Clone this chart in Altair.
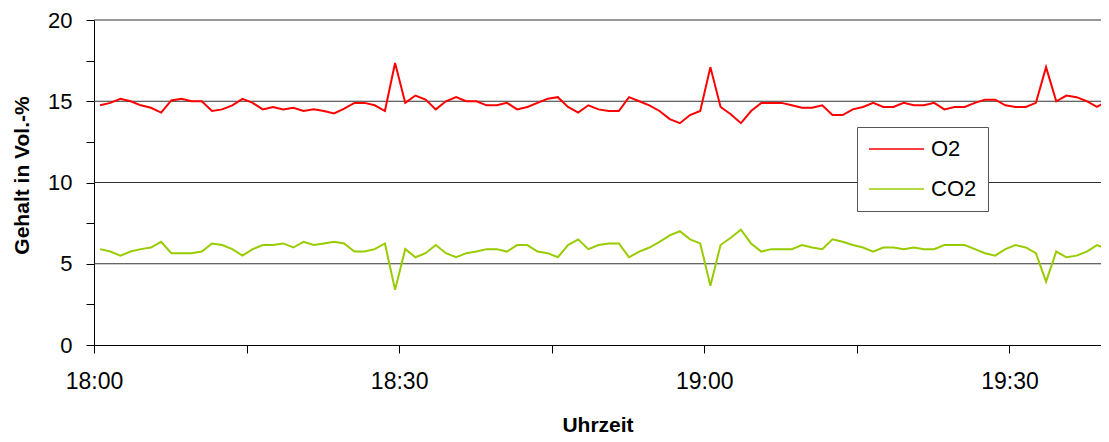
import altair as alt
import pandas as pd

o2 = [14.75, 14.9, 15.15, 15.0, 14.75, 14.6, 14.3, 15.05, 15.15, 15.0,
      15.0, 14.4, 14.5, 14.75, 15.15, 14.9, 14.5, 14.65, 14.5, 14.6,
      14.4, 14.5, 14.4, 14.25, 14.55, 14.9, 14.9, 14.75, 14.4, 17.35,
      14.9, 15.35, 15.1, 14.5, 15.0, 15.25, 15.0, 15.0, 14.75, 14.75,
      14.9, 14.5, 14.65, 14.9, 15.15, 15.25, 14.65, 14.3, 14.75, 14.5,
      14.4, 14.4, 15.25, 15.0, 14.75, 14.4, 13.9, 13.65, 14.15, 14.4,
      17.1, 14.65, 14.2, 13.65, 14.4, 14.9, 14.9, 14.9, 14.75, 14.6,
      14.6, 14.75, 14.15, 14.15, 14.5, 14.65, 14.9, 14.65, 14.65, 14.9,
      14.75, 14.75, 14.9, 14.5, 14.65, 14.65, 14.9, 15.1, 15.1, 14.75,
      14.65, 14.65, 14.9, 17.1, 15.0, 15.35, 15.25, 15.0, 14.65, 15.0]

co2 = [5.9, 5.75, 5.5, 5.75, 5.9, 6.0, 6.35, 5.65, 5.65, 5.65,
       5.75, 6.25, 6.15, 5.9, 5.5, 5.9, 6.15, 6.15, 6.25, 6.0,
       6.35, 6.15, 6.25, 6.35, 6.25, 5.75, 5.75, 5.9, 6.25, 3.4,
       5.9, 5.4, 5.65, 6.15, 5.65, 5.4, 5.65, 5.75, 5.9, 5.9,
       5.75, 6.15, 6.15, 5.75, 5.65, 5.4, 6.15, 6.5, 5.9, 6.15,
       6.25, 6.25, 5.4, 5.75, 6.0, 6.35, 6.75, 7.0, 6.5, 6.25,
       3.65, 6.15, 6.6, 7.1, 6.25, 5.75, 5.9, 5.9, 5.9, 6.15,
       6.0, 5.9, 6.5, 6.35, 6.15, 6.0, 5.75, 6.0, 6.0, 5.9,
       6.0, 5.9, 5.9, 6.15, 6.15, 6.15, 5.9, 5.65, 5.5, 5.9,
       6.15, 6.0, 5.65, 3.9, 5.75, 5.4, 5.5, 5.75, 6.15, 5.9]

series_names = ["O2", "CO2"]
series_colors = ["#FF0000", "#99CC00"]
grid_values = [5, 10, 15, 20]
y_tick_values = [0, 2.5, 5, 7.5, 10, 12.5, 15, 17.5, 20]
x_tick_values = [0, 15, 30, 45, 60, 75, 90]

times = pd.date_range("2000-01-01 18:00:36", periods=len(o2), freq="min")
base_time = pd.Timestamp("2000-01-01 18:00:00")
minutes = [(t - base_time).total_seconds() / 60.0 for t in times]

rows = []
for m, a, b in zip(minutes, o2, co2):
    rows.append({"min": m, "series": "O2", "value": a})
    rows.append({"min": m, "series": "CO2", "value": b})
df = pd.DataFrame(rows)
grid_df = pd.DataFrame({"value": grid_values})

FONT = "Liberation Sans"
NB = "\u00a0\u00a0"

x_axis = alt.Axis(
    values=x_tick_values,
    labelExpr="datum.value % 30 == 0 ? '" + NB + "' + (floor(datum.value / 60) + 18) + ':' + (datum.value % 60 == 0 ? '00' : '30') : ''",
    title="Uhrzeit",
    grid=False,
    tickSize=8,
    tickColor="black",
    domainColor="black",
    labelFontSize=23,
    labelPadding=17,
    labelFlush=False,
    titleFontSize=21,
    titleFontWeight="bold",
    titleY=80,
    titleBaseline="middle",
)
y_axis = alt.Axis(
    values=y_tick_values,
    labelExpr="datum.value % 5 == 0 ? datum.label : ''",
    title="Gehalt in Vol.-%",
    grid=False,
    tickSize=8,
    tickColor="black",
    domainColor="black",
    labelFontSize=22,
    labelPadding=14,
    titleFontSize=21,
    titleFontWeight="bold",
    titleX=-72,
    titleY=155,
    titleAngle=270,
    titleAlign="center",
    titleBaseline="middle",
)

y_scale = alt.Scale(domain=[0, 20], nice=False)
x_enc = alt.X("min:Q", scale=alt.Scale(domain=[0, 99.0], nice=False, zero=False), axis=x_axis)

grid = alt.Chart(grid_df).mark_rule(color="#333333", strokeWidth=1).encode(
    y=alt.Y("value:Q", scale=y_scale, axis=y_axis)
)

lines = alt.Chart(df).mark_line(strokeWidth=2).encode(
    x=x_enc,
    y=alt.Y("value:Q", scale=y_scale, axis=y_axis),
    color=alt.Color(
        "series:N",
        scale=alt.Scale(domain=series_names, range=series_colors),
        sort=series_names,
        legend=alt.Legend(
            title=None,
            orient="none",
            legendX=763,
            legendY=107,
            symbolType="stroke",
            symbolSize=3025,
            symbolStrokeWidth=1.5,
            clipHeight=22,
            labelFontSize=22,
            labelOffset=6,
            padding=11,
            rowPadding=18,
            strokeColor="#555555",
            fillColor="white",
            labelColor="black",
        ),
    ),
    detail="series:N",
)

chart = alt.layer(grid, lines).properties(
    width=1007,
    height=325,
    autosize=alt.AutoSizeParams(type="none"),
    padding={"left": 86, "top": 12, "right": 0, "bottom": 89},
).configure(
    font=FONT,
).configure_view(
    stroke="transparent",
).configure_axis(
    labelColor="black",
    titleColor="black",
    labelFont=FONT,
    titleFont=FONT,
).configure_legend(
    labelFont=FONT,
)

chart.save("out.html", embed_options={"renderer": "svg", "actions": False})
